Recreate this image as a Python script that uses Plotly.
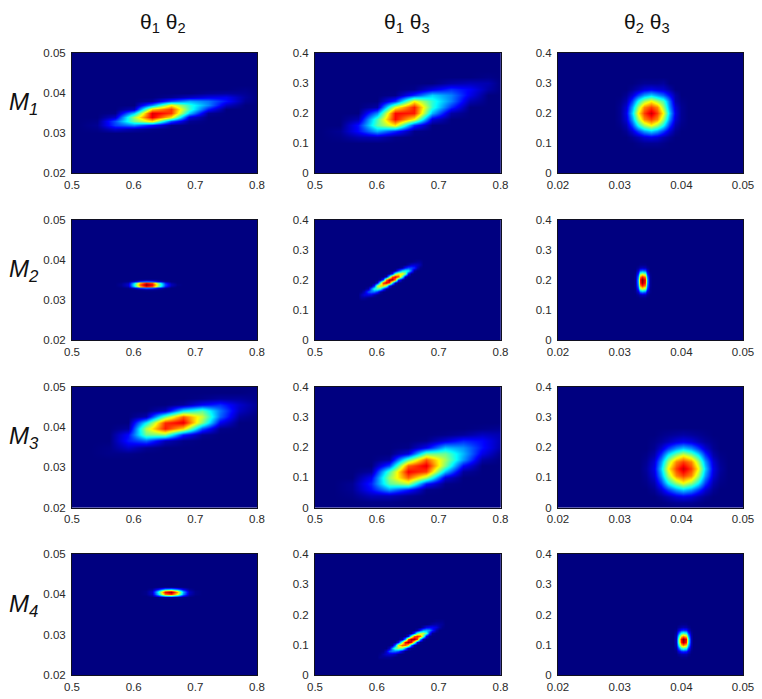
import plotly.graph_objects as go

# ---- axis labelling -------------------------------------------------------
COLUMN_TITLES = ["θ<sub>1</sub> θ<sub>2</sub>", "θ<sub>1</sub> θ<sub>3</sub>", "θ<sub>2</sub> θ<sub>3</sub>"]
ROW_TITLES = ["M<sub>1</sub>", "M<sub>2</sub>", "M<sub>3</sub>", "M<sub>4</sub>"]
T1_TICKS = [0.5, 0.6, 0.7, 0.8]
T1_LABELS = ["0.5", "0.6", "0.7", "0.8"]
T2_TICKS = [0.02, 0.03, 0.04, 0.05]
T2_LABELS = ["0.02", "0.03", "0.04", "0.05"]
T3_TICKS = [0, 0.1, 0.2, 0.3, 0.4]
T3_LABELS = ["0", "0.1", "0.2", "0.3", "0.4"]

# ---- densities: grid lines and relative density ----------------------------
M1_12_X = [.54, .57, .60, .63, .66, .69, .72, .75, .78]
M1_12_Y = [.030, .031, .032, .033, .034, .035, .036, .037, .038, .039, .040, .041]
M1_12_Z = [
    [0, 0, 0, 0, 0, 0, 0, 0, 0],
    [1, 8, 4, 1, 0, 0, 0, 0, 0],
    [2, 20, 28, 15, 1, 0, 0, 0, 0],
    [1, 22, 52, 70, 22, 2, 0, 0, 0],
    [0, 8, 58, 97, 70, 10, 0, 0, 0],
    [0, 1, 35, 98, 89, 35, 2, 0, 0],
    [0, 0, 6, 72, 89, 47, 16, 0, 0],
    [0, 0, 0, 28, 68, 45, 28, 7, 0],
    [0, 0, 0, 3, 22, 32, 26, 15, 2],
    [0, 0, 0, 0, 2, 7, 11, 12, 3],
    [0, 0, 0, 0, 0, 0, 2, 3, 2],
    [0, 0, 0, 0, 0, 0, 0, 0, 1],
]

M1_13_X = [.54, .57, .60, .63, .66, .69, .72, .75, .78]
M1_13_Y = [.12, .14, .16, .18, .20, .22, .24, .26, .28, .30, .32]
M1_13_Z = [
    [1, 5, 6, 1, 0, 0, 0, 0, 0],
    [2, 14, 32, 18, 1, 0, 0, 0, 0],
    [0, 15, 50, 70, 18, 0, 0, 0, 0],
    [0, 5, 48, 94, 68, 10, 0, 0, 0],
    [0, 0, 28, 94, 92, 33, 4, 0, 0],
    [0, 0, 4, 65, 92, 45, 18, 0, 0],
    [0, 0, 0, 18, 68, 45, 27, 5, 0],
    [0, 0, 0, 1, 18, 36, 27, 11, 0],
    [0, 0, 0, 0, 1, 10, 18, 13, 4],
    [0, 0, 0, 0, 0, 0, 4, 6, 5],
    [0, 0, 0, 0, 0, 0, 0, 0, 1],
]

M1_23_X = [.030, .031, .032, .033, .034, .035, .036, .037, .038, .039, .040]
M1_23_Y = [.10, .12, .14, .16, .18, .20, .22, .24, .26, .28, .30]
M1_23_Z = [
    [0, 0, 0, 1, 2, 2, 2, 1, 0, 0, 0],
    [0, 0, 2, 5, 9, 11, 9, 5, 2, 0, 0],
    [0, 2, 9, 20, 30, 36, 30, 20, 9, 2, 0],
    [1, 5, 20, 42, 58, 68, 58, 42, 20, 5, 1],
    [2, 9, 30, 58, 80, 88, 80, 58, 30, 9, 2],
    [2, 11, 36, 68, 88, 100, 88, 68, 36, 11, 2],
    [2, 9, 30, 58, 80, 88, 80, 58, 30, 9, 2],
    [1, 5, 20, 42, 58, 68, 58, 48, 26, 5, 1],
    [0, 2, 9, 20, 30, 36, 30, 24, 14, 4, 0],
    [0, 0, 2, 5, 9, 11, 9, 8, 4, 0, 0],
    [0, 0, 0, 1, 2, 2, 2, 3, 0, 0, 0],
]

M2_12_X = [.58, .59, .60, .61, .62, .63, .64, .65, .66, .67]
M2_12_Y = [.0326, .0330, .0334, .0338, .0342, .0346, .0350]
M2_12_Z = [
    [0, 0, 0, 1, 2, 2, 1, 0, 0, 0],
    [0, 1, 8, 21, 27, 24, 12, 3, 0, 0],
    [1, 5, 32, 68, 86, 78, 46, 15, 3, 0],
    [2, 8, 40, 80, 100, 90, 55, 20, 6, 1],
    [1, 5, 32, 68, 86, 78, 46, 15, 3, 0],
    [0, 1, 8, 21, 27, 24, 12, 3, 0, 0],
    [0, 0, 0, 1, 2, 2, 1, 0, 0, 0],
]

M2_13_X = [.575, .58, .585, .59, .595, .60, .605, .61, .615, .62, .625, .63, .635, .64, .645, .65, .655, .66, .665, .67]
M2_13_Y = [.14, .15, .16, .17, .18, .19, .20, .21, .22, .23, .24, .25, .26]
M2_13_Z = [
    [3, 3, 1] + [0] * 17,
    [5, 9, 10, 9, 4, 1] + [0] * 14,
    [1, 6, 20, 24, 24, 17, 4] + [0] * 13,
    [0] * 2 + [4, 24, 41, 45, 40, 19, 3] + [0] * 11,
    [0] * 3 + [1, 15, 55, 68, 66, 50, 13, 1] + [0] * 9,
    [0] * 5 + [7, 44, 84, 92, 84, 40, 6] + [0] * 8,
    [0] * 6 + [2, 19, 74, 97, 97, 74, 19, 2] + [0] * 6,
    [0] * 8 + [5, 40, 80, 90, 82, 44, 6] + [0] * 5,
    [0] * 9 + [1, 12, 47, 62, 63, 50, 14, 1] + [0] * 3,
    [0] * 11 + [2, 17, 35, 40, 37, 21, 3] + [0] * 2,
    [0] * 13 + [3, 13, 19, 19, 16, 6, 1],
    [0] * 15 + [3, 7, 8, 7, 4],
    [0] * 17 + [1, 2, 2],
]

M2_23_X = [.0325, .0329, .0333, .0337, .0341, .0345, .0349]
M2_23_Y = [.14, .15, .16, .17, .18, .19, .20, .21, .22, .23, .24, .25]
M2_23_Z = [
    [0, 0, 1, 1, 1, 0, 0],
    [0, 2, 5, 6, 5, 2, 0],
    [1, 8, 24, 28, 24, 8, 1],
    [1, 18, 52, 60, 52, 18, 1],
    [2, 25, 74, 85, 74, 25, 2],
    [2, 29, 85, 98, 85, 29, 2],
    [2, 30, 87, 100, 87, 30, 2],
    [2, 25, 74, 85, 74, 25, 2],
    [1, 16, 48, 55, 48, 16, 1],
    [0, 8, 22, 25, 22, 8, 0],
    [0, 2, 5, 6, 5, 2, 0],
    [0, 0, 1, 1, 1, 0, 0],
]

M3_12_X = [.56, .59, .62, .65, .68, .71, .74, .77, .80]
M3_12_Y = [.0335, .035, .0365, .038, .0395, .041, .0425, .044, .0455, .047, .0485]
M3_12_Z = [
    [1, 1, 0, 0, 0, 0, 0, 0, 0],
    [1, 8, 2, 0, 0, 0, 0, 0, 0],
    [0, 16, 24, 6, 1, 0, 0, 0, 0],
    [0, 14, 52, 55, 16, 2, 0, 0, 0],
    [0, 3, 60, 92, 72, 22, 1, 0, 0],
    [0, 0, 40, 90, 97, 55, 12, 0, 0],
    [0, 0, 5, 52, 85, 62, 24, 3, 0],
    [0, 0, 0, 6, 38, 50, 26, 7, 1],
    [0, 0, 0, 0, 3, 13, 18, 8, 2],
    [0, 0, 0, 0, 0, 1, 3, 3, 1],
    [0, 0, 0, 0, 0, 0, 0, 0, 1],
]

M3_13_X = [.56, .59, .62, .65, .68, .71, .74, .77, .80]
M3_13_Y = [.02, .04, .06, .08, .10, .12, .14, .16, .18, .20, .22, .24, .26]
M3_13_Z = [
    [0, 1, 1, 0, 0, 0, 0, 0, 0],
    [1, 6, 6, 2, 0, 0, 0, 0, 0],
    [2, 14, 30, 16, 1, 0, 0, 0, 0],
    [2, 17, 50, 60, 16, 1, 0, 0, 0],
    [0, 12, 56, 84, 58, 9, 0, 0, 0],
    [0, 3, 48, 95, 88, 34, 3, 0, 0],
    [0, 0, 20, 84, 97, 54, 14, 0, 0],
    [0, 0, 3, 50, 85, 58, 30, 4, 0],
    [0, 0, 0, 10, 52, 52, 33, 11, 1],
    [0, 0, 0, 1, 12, 34, 29, 15, 4],
    [0, 0, 0, 0, 1, 9, 17, 14, 5],
    [0, 0, 0, 0, 0, 1, 3, 7, 5],
    [0, 0, 0, 0, 0, 0, 0, 1, 2],
]

M3_23_X = [.0343, .0355, .0367, .0379, .0391, .0403, .0415, .0427, .0439, .0451, .0463]
M3_23_Y = [.0155, .038, .0605, .083, .1055, .128, .1505, .173, .1955, .218, .2405]
M3_23_Z = [
    [0, 0, 0, 1, 2, 2, 2, 1, 0, 0, 0],
    [0, 0, 2, 5, 9, 11, 9, 5, 2, 0, 0],
    [0, 2, 9, 20, 30, 36, 30, 20, 9, 2, 0],
    [1, 5, 20, 42, 58, 68, 58, 42, 20, 5, 1],
    [2, 9, 30, 58, 80, 88, 80, 58, 30, 9, 2],
    [3, 11, 36, 68, 88, 100, 88, 68, 36, 11, 3],
    [2, 9, 30, 58, 80, 88, 80, 58, 30, 9, 2],
    [1, 5, 20, 42, 58, 68, 58, 42, 20, 5, 1],
    [0, 2, 9, 20, 30, 36, 30, 20, 9, 2, 0],
    [0, 1, 3, 6, 10, 12, 10, 6, 3, 1, 0],
    [0, 0, 1, 2, 3, 4, 3, 2, 1, 0, 0],
]

M4_12_X = [.62, .63, .64, .65, .66, .67, .68, .69, .70]
M4_12_Y = [.0393, .0397, .0401, .0405, .0409, .0413, .0417]
M4_12_Z = [
    [0, 0, 1, 3, 3, 2, 1, 0, 0],
    [0, 2, 13, 29, 32, 24, 10, 2, 0],
    [1, 6, 33, 76, 84, 62, 26, 5, 1],
    [1, 7, 38, 88, 98, 72, 30, 6, 1],
    [1, 6, 33, 76, 84, 62, 26, 5, 1],
    [0, 2, 13, 29, 32, 24, 10, 2, 0],
    [0, 0, 1, 3, 3, 2, 1, 0, 0],
]

M4_13_X = [.605, .61, .615, .62, .625, .63, .635, .64, .645, .65, .655, .66, .665, .67, .675, .68, .685, .69, .695, .70, .705]
M4_13_Y = [.06, .07, .08, .09, .10, .11, .12, .13, .14, .15, .16, .17, .18]
M4_13_Z = [
    [2, 2, 2, 2, 1] + [0] * 16,
    [1, 4, 7, 8, 7, 5, 1] + [0] * 14,
    [0, 1, 7, 20, 24, 24, 20, 8, 1] + [0] * 12,
    [0] * 3 + [6, 28, 47, 52, 48, 28, 7, 1] + [0] * 10,
    [0] * 4 + [3, 24, 62, 78, 78, 63, 25, 3] + [0] * 9,
    [0] * 5 + [1, 12, 53, 88, 97, 88, 53, 12, 1] + [0] * 7,
    [0] * 7 + [4, 30, 80, 97, 97, 80, 30, 4] + [0] * 6,
    [0] * 8 + [1, 11, 47, 78, 85, 78, 47, 11, 1] + [0] * 4,
    [0] * 10 + [2, 18, 45, 56, 56, 44, 17, 2] + [0] * 3,
    [0] * 12 + [4, 16, 27, 30, 27, 16, 4] + [0] * 2,
    [0] * 14 + [4, 10, 12, 12, 9, 4, 1],
    [0] * 16 + [1, 3, 4, 3, 2],
    [0] * 18 + [1, 1, 1],
]

M4_23_X = [.0391, .0395, .0399, .0403, .0407, .0411, .0415]
M4_23_Y = [.06, .07, .08, .09, .10, .11, .12, .13, .14, .15, .16, .17]
M4_23_Z = [
    [0, 0, 1, 1, 1, 0, 0],
    [0, 2, 4, 4, 4, 2, 0],
    [1, 8, 16, 18, 16, 8, 1],
    [3, 19, 40, 45, 40, 19, 3],
    [5, 32, 66, 75, 66, 32, 5],
    [6, 41, 85, 97, 85, 41, 6],
    [6, 42, 88, 100, 88, 42, 6],
    [5, 32, 66, 75, 66, 32, 5],
    [3, 19, 40, 45, 40, 19, 3],
    [1, 8, 16, 18, 16, 8, 1],
    [0, 2, 4, 5, 4, 2, 0],
    [0, 0, 1, 1, 1, 0, 0],
]

PANELS = [
    [(M1_12_X, M1_12_Y, M1_12_Z), (M1_13_X, M1_13_Y, M1_13_Z), (M1_23_X, M1_23_Y, M1_23_Z)],
    [(M2_12_X, M2_12_Y, M2_12_Z), (M2_13_X, M2_13_Y, M2_13_Z), (M2_23_X, M2_23_Y, M2_23_Z)],
    [(M3_12_X, M3_12_Y, M3_12_Z), (M3_13_X, M3_13_Y, M3_13_Z), (M3_23_X, M3_23_Y, M3_23_Z)],
    [(M4_12_X, M4_12_Y, M4_12_Z), (M4_13_X, M4_13_Y, M4_13_Z), (M4_23_X, M4_23_Y, M4_23_Z)],
]
# colour-scale ceiling per row
ROW_ZMAX = [108, 100, 108, 100]

# ---- layout and style -----------------------------------------------------
W, H = 762, 699
COL_PX = [(72, 257), (315, 500.5), (558, 743)]
ROW_PX = [(53, 173), (219.5, 340), (386.5, 507.5), (554, 675)]
COL_AXES = [
    ((0.5, 0.8), T1_TICKS, T1_LABELS, (0.02, 0.05), T2_TICKS, T2_LABELS),
    ((0.5, 0.8), T1_TICKS, T1_LABELS, (0, 0.4), T3_TICKS, T3_LABELS),
    ((0.02, 0.05), T2_TICKS, T2_LABELS, (0, 0.4), T3_TICKS, T3_LABELS),
]
JET = [
    [0, "rgb(0,0,128)"], [0.125, "rgb(0,0,255)"], [0.375, "rgb(0,255,255)"],
    [0.625, "rgb(255,255,0)"], [0.875, "rgb(255,0,0)"], [1, "rgb(128,0,0)"],
]
TICK_FONT = dict(family="Liberation Sans", size=11.5, color="#2a2a2a")


def pad(axis, values, rows, vertical):
    """Surround a local grid with a zero line next to it and at the axis ends."""
    lo, hi = axis
    step0 = values[1] - values[0]
    step1 = values[-1] - values[-2]
    before = [v for v in (lo, values[0] - step0) if lo <= v < values[0] - 1e-9]
    after = [v for v in (values[-1] + step1, hi) if values[-1] + 1e-9 < v <= hi]
    before = sorted(set(before))
    after = sorted(set(after))
    new_values = before + list(values) + after
    if vertical:
        zero = [0] * len(rows[0])
        return new_values, [zero] * len(before) + rows + [zero] * len(after)
    return new_values, [[0] * len(before) + r + [0] * len(after) for r in rows]


fig = go.Figure()
layout = dict(
    template="none",
    width=W, height=H, autosize=False,
    margin=dict(l=0, r=0, t=0, b=0),
    paper_bgcolor="white", plot_bgcolor="rgb(0,0,128)", showlegend=False,
    annotations=[],
)

for r, row in enumerate(PANELS):
    for c, (xs, ys, zs) in enumerate(row):
        n = r * 3 + c + 1
        xr, xt, xl, yr, yt, yl = COL_AXES[c]
        px, z2 = pad(xr, xs, zs, False)
        py, z3 = pad(yr, ys, z2, True)
        fig.add_trace(go.Heatmap(
            x=px, y=py, z=z3, zmin=0, zmax=ROW_ZMAX[r], zsmooth="best",
            colorscale=JET, showscale=False, hoverinfo="skip",
            xaxis=f"x{n}", yaxis=f"y{n}",
        ))
        common = dict(
            automargin=False,
            showgrid=False, zeroline=False, showline=True, mirror=True,
            linecolor="#101020", linewidth=1, ticks="outside",
            tickcolor="rgba(0,0,0,0)", tickfont=TICK_FONT,
        )
        layout[f"xaxis{n}"] = dict(
            domain=[COL_PX[c][0] / W, COL_PX[c][1] / W], range=list(xr), ticklen=1,
            tickmode="array", tickvals=xt, ticktext=xl, anchor=f"y{n}", **common,
        )
        layout[f"yaxis{n}"] = dict(
            domain=[1 - ROW_PX[r][1] / H, 1 - ROW_PX[r][0] / H], range=list(yr), ticklen=3,
            tickmode="array", tickvals=yt, ticktext=yl, anchor=f"x{n}", **common,
        )

TITLE_CENTERS = [163, 407, 647]
for cx, text in zip(TITLE_CENTERS, COLUMN_TITLES):
    layout["annotations"].append(dict(
        text=text, x=cx / W, y=1 - 23 / H, xref="paper", yref="paper",
        xanchor="center", yanchor="middle", showarrow=False,
        font=dict(family="Liberation Sans", size=21, color="#111"),
    ))
ROW_CENTERS = [104, 270, 437, 605]
for cy, text in zip(ROW_CENTERS, ROW_TITLES):
    layout["annotations"].append(dict(
        text=f"<i>{text}</i>", x=7 / W, y=1 - cy / H, xref="paper", yref="paper",
        xanchor="left", yanchor="middle", showarrow=False,
        font=dict(family="Liberation Sans", size=24, color="#111"),
    ))

fig.update_layout(**layout)
fig.write_html("out.html", config=dict(displayModeBar=False),
               post_script="document.body.style.margin='0';")
